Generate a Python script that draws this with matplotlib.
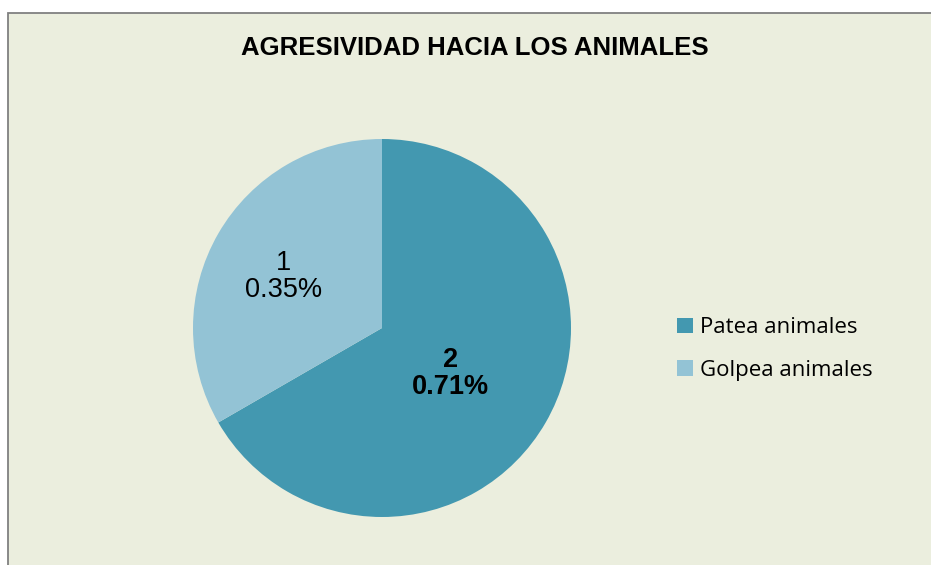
import matplotlib
matplotlib.use("Agg")
import matplotlib.pyplot as plt
import numpy as np
from matplotlib.patches import Rectangle

labels = ["Patea animales", "Golpea animales"]
counts = [2, 1]
pct_text = ["0.71%", "0.35%"]
colors = ["#4398B0", "#93C3D5"]

W, H = 931, 565
fig = plt.figure(figsize=(W / 100, H / 100), dpi=100)
fig.patch.set_facecolor("white")

# chart area panel (border on top/left, runs off the right and bottom edges)
fig.patches.append(Rectangle((8 / W, -0.05), 1.0, 1 - 12.5 / H + 0.05, transform=fig.transFigure,
                             facecolor="#EBEEDE", edgecolor="#808080", linewidth=1.3, zorder=-5))

cx, cy, r = 382, 328, 189
ax = fig.add_axes([(cx - r) / W, (H - cy - r) / H, 2 * r / W, 2 * r / H])
ax.set_zorder(2)
ax.set_aspect("equal")
ax.axis("off")

wedges, _ = ax.pie(counts, colors=colors, startangle=90, counterclock=False, radius=1.0,
                   wedgeprops=dict(linewidth=0))
ax.set_xlim(-1, 1)
ax.set_ylim(-1, 1)

# data labels
dist = [0.42, 0.60]
weights = ["bold", "normal"]
for w, n, p, d, fw in zip(wedges, counts, pct_text, dist, weights):
    ang = np.deg2rad((w.theta1 + w.theta2) / 2)
    ax.text(d * np.cos(ang), d * np.sin(ang) - 0.03, f"{n}\n{p}", ha="center", va="center",
            fontsize=19.5, fontweight=fw, family="Liberation Sans", linespacing=1.05)

fig.text(475 / W, 1 - 48 / H, "AGRESIVIDAD HACIA LOS ANIMALES", ha="center", va="center",
         fontsize=18.5, fontweight="bold", family="Liberation Sans")

leg = fig.legend(wedges, labels, loc="center left", bbox_to_anchor=(677 / W, 1 - 349 / H),
                 frameon=False, handlelength=0.7, handleheight=0.7, handletextpad=0.35,
                 labelspacing=0.95, borderaxespad=0, borderpad=0,
                 prop=dict(family="Open Sans", size=16))
leg.set_zorder(3)

fig.savefig("out.png", dpi=100, facecolor=fig.get_facecolor())
